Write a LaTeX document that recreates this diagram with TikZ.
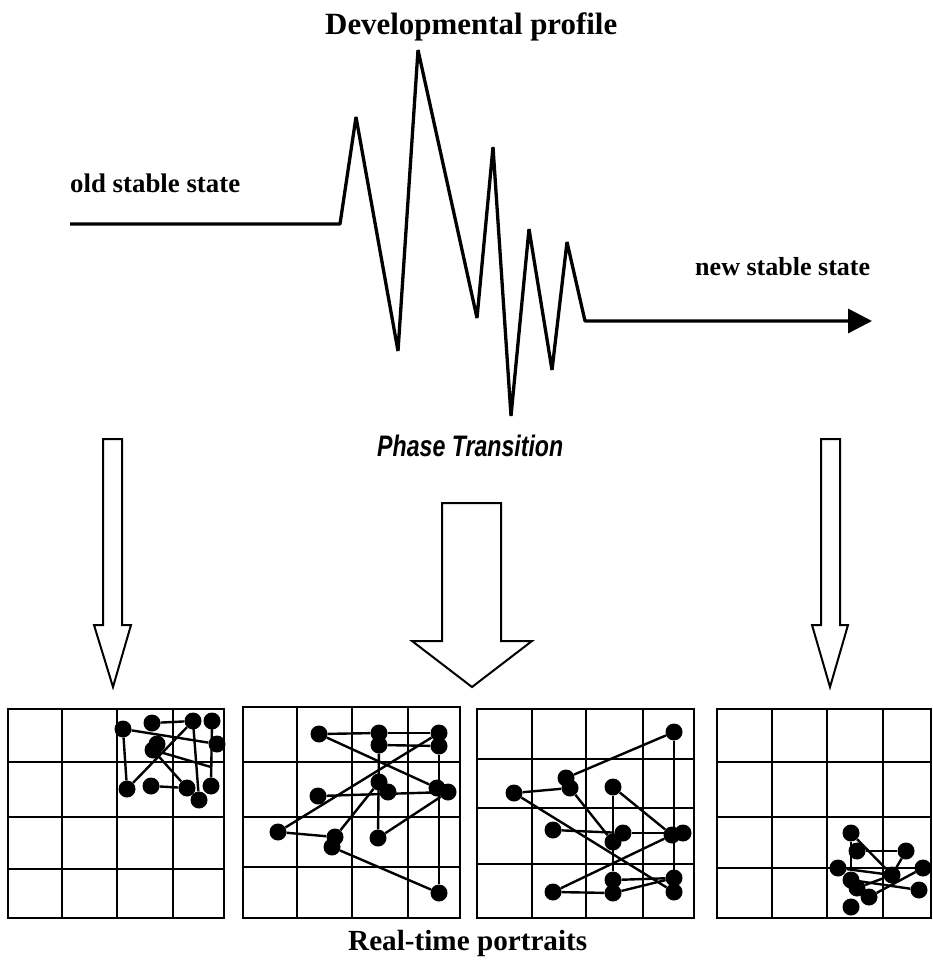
\documentclass[tikz,border=0pt]{standalone}
\usepackage{graphicx}
\usepackage{fontspec}
\setmainfont{Liberation Serif}
\newfontfamily\ptfont[FakeStretch=0.78]{Liberation Sans}
\usetikzlibrary{arrows.meta}
\newcommand{\fitw}[2]{\resizebox{#1}{!}{#2}}
\begin{document}
\begin{tikzpicture}[x=1pt,y=-1pt,
  dot/.style={circle,fill=black,inner sep=0pt,minimum size=17pt},
  gridline/.style={line width=2.1pt},
  edge/.style={line width=2.4pt},
  bigarrow/.style={line width=2pt,line join=miter},
  lbl/.style={inner sep=0pt}]
\useasboundingbox (0,0) rectangle (933,960);

% texts
\node[lbl,anchor=base west] (title) at (325,35) {\fitw{292pt}{\bfseries Developmental profile}};
\node[lbl,anchor=base west] (old) at (70,193) {\fitw{170pt}{\bfseries old stable state}};
\node[lbl,anchor=base west] (new) at (695,275) {\fitw{175pt}{\bfseries new stable state}};
\node[lbl,anchor=base west] (phase) at (377,456) {\fitw{186pt}{\ptfont\bfseries\itshape Phase Transition}};
\node[lbl,anchor=base west] (portraits) at (348,950) {\fitw{239pt}{\bfseries Real-time portraits}};

% developmental profile
\draw[line width=3.3pt,line join=bevel,-{Triangle[length=24pt,width=24pt]}]
  (70,224) -- (340,224) -- (356,117) -- (398,351) -- (418,50) -- (477,318)
  -- (493,147) -- (511,416) -- (529,229) -- (552,370) -- (567,242) -- (585,321) -- (872,321);

% big arrows
\draw[bigarrow] (103,439) -- (122,439) -- (122,625) -- (131,625) -- (113,687) -- (94,625) -- (103,625) -- cycle;
\draw[bigarrow] (442,503) -- (501,503) -- (501,641) -- (532,641) -- (472,687) -- (412,641) -- (442,641) -- cycle;
\draw[bigarrow] (821,439) -- (840,439) -- (840,625) -- (848,625) -- (830,687) -- (812,625) -- (821,625) -- cycle;

% grids
\draw[gridline] (8,709) rectangle (224,918);
\foreach \x in {62,117,173} \draw[gridline] (\x,709) -- (\x,918);
\foreach \y in {762,817,869} \draw[gridline] (8,\y) -- (224,\y);

\draw[gridline] (243,707) rectangle (460,918);
\foreach \x in {297,352,408} \draw[gridline] (\x,707) -- (\x,918);
\foreach \y in {762,817,867} \draw[gridline] (243,\y) -- (460,\y);

\draw[gridline] (477,709) rectangle (694,918);
\foreach \x in {532,586,643} \draw[gridline] (\x,709) -- (\x,918);
\foreach \y in {759,808,864} \draw[gridline] (477,\y) -- (694,\y);

\draw[gridline] (717,709) rectangle (931,918);
\foreach \x in {772,827,883} \draw[gridline] (\x,709) -- (\x,918);
\foreach \y in {762,817,868} \draw[gridline] (717,\y) -- (931,\y);

% panel 1
\node[dot] (aA) at (123,729) {};
\node[dot] (aB) at (152,723) {};
\node[dot] (aC) at (193,721) {};
\node[dot] (aD) at (212,721) {};
\node[dot] (aE) at (217,744) {};
\node[dot] (aF) at (153,750) {};
\node[dot] (aG) at (157,744) {};
\node[dot] (aH) at (127,789) {};
\node[dot] (aI) at (151,786) {};
\node[dot] (aJ) at (187,788) {};
\node[dot] (aK) at (199,800) {};
\node[dot] (aL) at (211,786) {};
\coordinate (aX) at (211,767);
\draw[edge] (aA) -- (aH);
\draw[edge] (aA) -- (aE);
\draw[edge] (aB) -- (aC);
\draw[edge] (aC) -- (aH);
\draw[edge] (aF) -- (aJ);
\draw[edge] (aF) -- (aX);
\draw[edge] (aC.center) -- (aK);
\draw[edge] (aD.center) -- (aL);
\draw[edge] (aI) -- (aJ);

% panel 2
\node[dot] (ba) at (319,734) {};
\node[dot] (bb) at (379,733) {};
\node[dot] (bc) at (379,745) {};
\node[dot] (bd) at (439,733) {};
\node[dot] (be) at (439,746) {};
\node[dot] (bf) at (379,782) {};
\node[dot] (bg) at (388,792) {};
\node[dot] (bh) at (318,796) {};
\node[dot] (bi) at (437,788) {};
\node[dot] (bj) at (448,792) {};
\node[dot] (bk) at (278,832) {};
\node[dot] (bl) at (335,837) {};
\node[dot] (bm) at (332,847) {};
\node[dot] (bn) at (378,838) {};
\node[dot] (bo) at (439,893) {};
\draw[edge] (ba) -- (bb);
\draw[edge] (ba) -- (bi);
\draw[edge] (bb) -- (bd);
\draw[edge] (bc) -- (be);
\draw[edge] (bk) -- (bd);
\draw[edge] (bk) -- (bl);
\draw[edge] (bh) -- (bj);
\draw[edge] (bc) -- (bn);
\draw[edge] (bn) -- (bj);
\draw[edge] (bl) -- (bf);
\draw[edge] (bm) -- (bo);
\draw[edge] (be) -- (bo);

% panel 3
\node[dot] (cp) at (674,732) {};
\node[dot] (cq) at (566,778) {};
\node[dot] (cr) at (570,788) {};
\node[dot] (cs) at (613,787) {};
\node[dot] (ct) at (514,793) {};
\node[dot] (cu) at (553,830) {};
\node[dot] (cv) at (623,833) {};
\node[dot] (cw) at (613,842) {};
\node[dot] (cx) at (672,835) {};
\node[dot] (cy) at (683,833) {};
\node[dot] (cz) at (613,880) {};
\node[dot] (caa) at (674,878) {};
\node[dot] (cbb) at (674,892) {};
\node[dot] (ccc) at (613,893) {};
\node[dot] (cdd) at (553,892) {};
\draw[edge] (cq) -- (cp);
\draw[edge] (cp) -- (cbb);
\draw[edge] (ct) -- (cr);
\draw[edge] (ct) -- (cbb);
\draw[edge] (cr) -- (cw);
\draw[edge] (cs) -- (cz);
\draw[edge] (cs) -- (cx);
\draw[edge] (cu) -- (cv);
\draw[edge] (cv) -- (cy);
\draw[edge] (cdd) -- (cx);
\draw[edge] (cdd) -- (ccc);
\draw[edge] (cz) -- (caa);
\draw[edge] (ccc) -- (caa);

% panel 4
\node[dot] (d1) at (851,833) {};
\node[dot] (d2) at (857,851) {};
\node[dot] (d3) at (906,851) {};
\node[dot] (d4) at (838,868) {};
\node[dot] (d5) at (892,875) {};
\node[dot] (d6) at (923,868) {};
\node[dot] (d7) at (851,880) {};
\node[dot] (d8) at (857,888) {};
\node[dot] (d9) at (869,897) {};
\node[dot] (d10) at (919,890) {};
\node[dot] (d11) at (851,907) {};
\draw[edge] (d1) -- (d5);
\draw[edge] (d1) -- (d7);
\draw[edge] (d2) -- (d3);
\draw[edge] (d3) -- (d5);
\draw[edge] (d4) -- (d6);
\draw[edge] (d4) -- (d5);
\draw[edge] (d7) -- (d10);
\draw[edge] (d8) -- (d5);
\draw[edge] (d9) -- (d6);
\end{tikzpicture}
\end{document}
